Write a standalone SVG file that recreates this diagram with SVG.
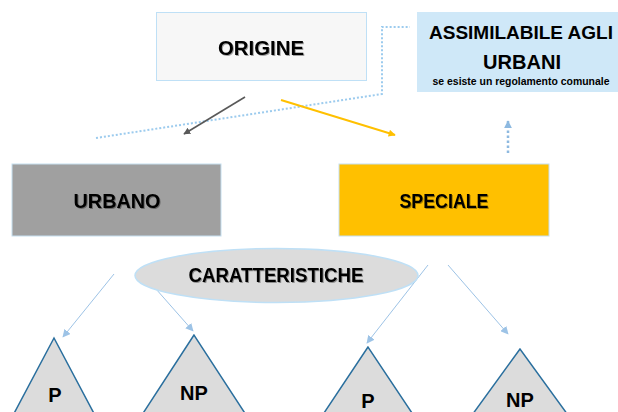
<svg xmlns="http://www.w3.org/2000/svg" width="618" height="412" viewBox="0 0 618 412">
<style>
.t{font-family:"Liberation Sans",Arial,sans-serif;font-weight:bold;fill:#000;text-anchor:middle}
.big{font-size:21px}
.tri{fill:#dcdcdc;stroke:#2a6f9e;stroke-width:1.5}
.thin{stroke:#9dc3e6;stroke-width:1;fill:none}
</style>
<defs>
<filter id="sh" x="-10%" y="-20%" width="120%" height="150%">
<feDropShadow dx="1" dy="1" stdDeviation="0.6" flood-color="#000" flood-opacity="0.35"/>
</filter>
<marker id="mg" viewBox="0 0 10 10" refX="9" refY="5" markerWidth="7" markerHeight="7" orient="auto" markerUnits="userSpaceOnUse">
<path d="M0,0 L10,5 L0,10 z" fill="#595959"/>
</marker>
<marker id="my" viewBox="0 0 10 10" refX="9" refY="5" markerWidth="8" markerHeight="7" orient="auto" markerUnits="userSpaceOnUse">
<path d="M0,0 L10,5 L0,10 z" fill="#ffc000"/>
</marker>
<marker id="mb" viewBox="0 0 10 10" refX="9" refY="5" markerWidth="8" markerHeight="8" orient="auto" markerUnits="userSpaceOnUse">
<path d="M0,0 L10,5 L0,10 z" fill="#9dc3e6"/>
</marker>
<marker id="mb2" viewBox="0 0 10 10" refX="9" refY="5" markerWidth="8" markerHeight="9" orient="auto" markerUnits="userSpaceOnUse">
<path d="M0,0 L10,5 L0,10 z" fill="#8db9e0"/>
</marker>
</defs>

<g id="connectors">
<polyline points="96,138 382,94 382,27 410,27" fill="none" stroke="#9ccbee" stroke-width="2" stroke-dasharray="2,2"/>
<line x1="245" y1="97" x2="184" y2="134" stroke="#595959" stroke-width="1.6" marker-end="url(#mg)"/>
<line x1="281" y1="100" x2="395" y2="135" stroke="#ffc000" stroke-width="2" marker-end="url(#my)"/>
<line x1="508" y1="153" x2="508" y2="121" stroke="#8db9e0" stroke-width="2.5" stroke-dasharray="2.5,2.5" marker-end="url(#mb2)"/>
<line x1="114" y1="274" x2="63" y2="337" class="thin" marker-end="url(#mb)"/>
<line x1="141" y1="272" x2="193" y2="331" class="thin" marker-end="url(#mb)"/>
<line x1="428" y1="265" x2="367" y2="343" class="thin" marker-end="url(#mb)"/>
<line x1="448" y1="265" x2="508" y2="334" class="thin" marker-end="url(#mb)"/>
</g>

<g id="origine">
<rect x="156.5" y="12.5" width="210" height="68" fill="#f7f7f7" stroke="#bfe0f6" stroke-width="1"/>
<text class="t big" x="261" y="55" textLength="86" lengthAdjust="spacingAndGlyphs" filter="url(#sh)">ORIGINE</text>
</g>

<g id="assimilabile">
<rect x="417" y="12" width="201" height="80" fill="#cfe8f8"/>
<text class="t" x="521" y="39" font-size="18" textLength="184" lengthAdjust="spacingAndGlyphs">ASSIMILABILE AGLI</text>
<text class="t big" x="522" y="69" textLength="78" lengthAdjust="spacingAndGlyphs">URBANI</text>
<text class="t" x="521" y="85" font-size="10.5" textLength="177" lengthAdjust="spacingAndGlyphs">se esiste un regolamento comunale</text>
</g>

<g id="urbano">
<rect x="12" y="164" width="209" height="72" fill="#a0a0a0" stroke="#c5dff0" stroke-width="1"/>
<text class="t big" x="117" y="208" textLength="87" lengthAdjust="spacingAndGlyphs" filter="url(#sh)">URBANO</text>
</g>

<g id="speciale">
<rect x="339" y="164" width="210" height="72" fill="#ffc000" stroke="#c5dff0" stroke-width="1"/>
<text class="t big" x="444" y="208" textLength="89" lengthAdjust="spacingAndGlyphs" filter="url(#sh)">SPECIALE</text>
</g>

<g id="caratteristiche">
<ellipse cx="276.5" cy="275.5" rx="141.5" ry="27" fill="#dcdcdc" stroke="#bfe0f6" stroke-width="1.5"/>
<text class="t big" x="276" y="282" textLength="175" lengthAdjust="spacingAndGlyphs" filter="url(#sh)">CARATTERISTICHE</text>
</g>

<g id="urbano-p">
<polygon class="tri" points="54,338 10,421 98,421"/>
<text class="t" x="55" y="402" font-size="20">P</text>
</g>
<g id="urbano-np">
<polygon class="tri" points="194,335 138,421 250,421"/>
<text class="t" x="194" y="400" font-size="20">NP</text>
</g>
<g id="speciale-p">
<polygon class="tri" points="368,347 318,422 418,422"/>
<text class="t" x="368" y="408" font-size="20">P</text>
</g>
<g id="speciale-np">
<polygon class="tri" points="520,349 467,422 573,422"/>
<text class="t" x="520" y="407" font-size="20">NP</text>
</g>
</svg>
